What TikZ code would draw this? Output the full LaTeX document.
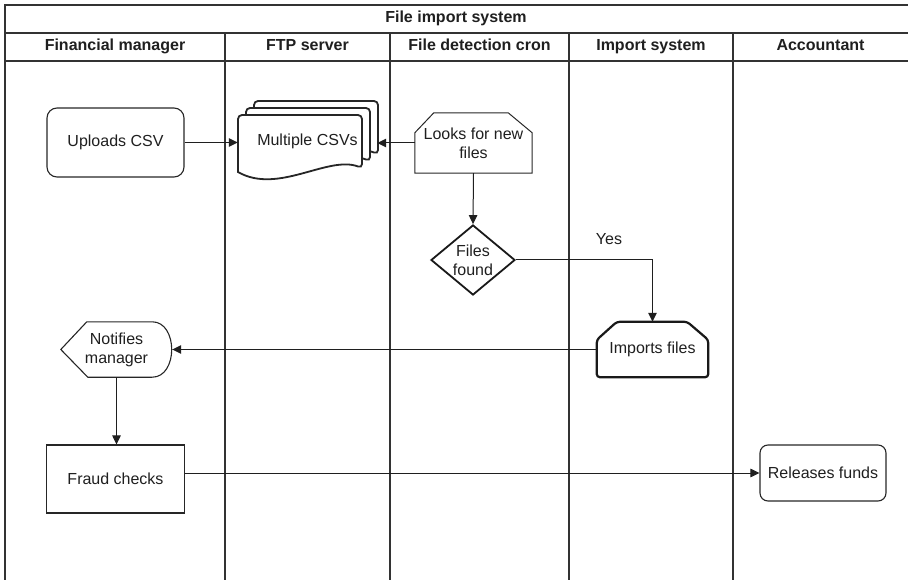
\documentclass[tikz,border=0pt]{standalone}
\usepackage{fontspec}
\setmainfont{Liberation Sans}
\usetikzlibrary{arrows.meta,shapes.geometric,calc}
\newcommand{\csvdoc}[2]{\draw[line width=1.8pt, draw=black!85, fill=white, rounded corners=4pt] (#1,#2+57) -- (#1,#2) -- (#1+124,#2) -- (#1+124,#2+53) [sharp corners] .. controls (#1+90,#2+40) and (#1+40,#2+80) .. (#1,#2+57) -- cycle;}
\begin{document}
\begin{tikzpicture}[x=1pt,y=-1pt,
  every node/.style={font=\fontsize{16}{19}\selectfont, text=black!88, inner sep=0pt, align=center},
  hdr/.style={font=\fontsize{16}{19}\selectfont\bfseries, text height=11.5pt, text depth=3.5pt},
  lane/.style={line width=1.4pt, draw=black!80},
  conn/.style={line width=1pt, draw=black!88, -{Triangle[length=9pt,width=8.5pt]}},
  outline/.style={draw=black!85, line width=1.1pt}]
\useasboundingbox (0,0) rectangle (908,580);
% frame and lanes
\draw[lane] (5,580) -- (5,5) -- (908,5);
\draw[lane] (5,33) -- (908,33);
\draw[lane] (5,61) -- (908,61);
\foreach \x in {225,390,569,733} \draw[lane] (\x,33) -- (\x,580);
% headers
\node[hdr] (title) at (456,19) {File import system};
\node[hdr] (h1) at (115,47) {Financial manager};
\node[hdr] (h2) at (307.5,47) {FTP server};
\node[hdr] (h3) at (479.5,47) {File detection cron};
\node[hdr] (h4) at (651,47) {Import system};
\node[hdr] (h5) at (820.5,47) {Accountant};
% Uploads CSV
\node[outline, rounded corners=10pt, minimum width=137pt, minimum height=69pt] (up) at (115.5,142.5) {Uploads CSV};
% Multiple CSVs
\csvdoc{254}{101}
\csvdoc{246}{108}
\csvdoc{238}{115}
\node[minimum width=139pt, minimum height=79pt] (csv) at (307.5,141.5) {Multiple CSVs};
% Looks for new files
\node[minimum width=117pt, minimum height=60pt] (looks) at (473.5,143) {Looks for new\\files};
\draw[outline, line width=1pt] (looks.south west) -- ($(looks.north west)+(0,20)$) -- ($(looks.north west)+(19,0)$) -- ($(looks.north east)+(-24,0)$) -- ($(looks.north east)+(0,20)$) -- (looks.south east) -- cycle;
% Files found
\node[diamond, draw=black!90, line width=1.8pt, aspect=1.2, minimum width=84pt, minimum height=70pt] (ff) at (473,260) {Files\\found};
\node (yes) at (609,239) {Yes};
% Imports files
\node[minimum width=111pt, minimum height=55pt] (imp) at (652.5,349.5) {Imports files};
\draw[draw=black!90, line width=2.2pt, rounded corners=3pt] (imp.south west) -- ($(imp.north west)+(0,18)$) -- ($(imp.north west)+(20,0)$) -- ($(imp.north east)+(-21,0)$) -- ($(imp.north east)+(0,18)$) -- (imp.south east) -- cycle;
% Notifies manager
\node[minimum width=111pt, minimum height=55pt] (nm) at (116.5,349.5) {Notifies\\manager};
\draw[outline] (nm.west) -- ($(nm.north west)+(26,0)$) -- ($(nm.north east)+(-20,0)$) .. controls ($(nm.north east)+(6,0)$) and ($(nm.south east)+(6,0)$) .. ($(nm.south east)+(-20,0)$) -- ($(nm.south west)+(27,0)$) -- cycle;
% Fraud checks
\node[outline, minimum width=138pt, minimum height=68pt] (fc) at (115.5,479) {Fraud checks};
% Releases funds
\node[outline, rounded corners=8pt, minimum width=126pt, minimum height=56pt] (rel) at (823,473) {Releases funds};
% connectors
\draw[conn] (up.east) -- (up.east -| csv.west);
\draw[conn] (looks.west) -- (looks.west -| csv.east);
\draw[conn] (looks.south) -- (ff.north);
\draw[conn] (ff.east) -| (imp.north);
\draw[conn] (imp.west) -- (nm.east);
\draw[conn] (nm.south) -- (nm.south |- fc.north);
\draw[conn] (fc.east |- rel.west) -- (rel.west);
\end{tikzpicture}
\end{document}
